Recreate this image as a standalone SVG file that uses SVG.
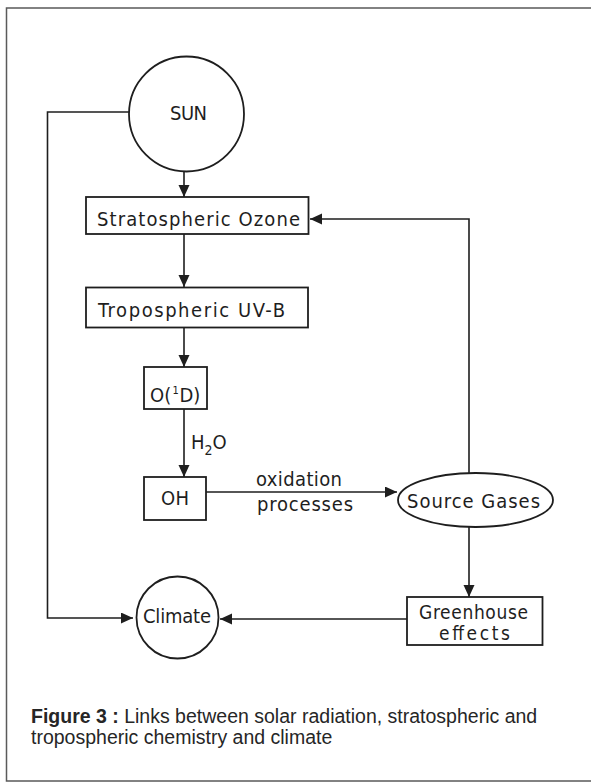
<svg xmlns="http://www.w3.org/2000/svg" width="591" height="782" viewBox="0 0 591 782">
<defs>
<marker id="ah" markerUnits="userSpaceOnUse" markerWidth="13" markerHeight="12" refX="12" refY="5.5" orient="auto">
<path d="M0,0 L12,5.5 L0,11 Z" fill="#1e1e1e"/>
</marker>
<style>
.ln{fill:none;stroke:#1e1e1e;stroke-width:1.6}
.nd{fill:#fff;stroke:#1e1e1e;stroke-width:1.8}
.lb{font-family:"DejaVu Sans Condensed","DejaVu Sans",sans-serif;font-size:20px;fill:#1e1e1e}
.cap{font-family:"Liberation Sans",Arial,sans-serif;font-size:19.5px;fill:#262626}
</style>
</defs>
<rect width="591" height="782" fill="#fff"/>
<path d="M592,8 H6.5 V781 H592" fill="none" stroke="#5a5a5a" stroke-width="1.5"/>
<g id="connectors">
<path class="ln" d="M129,112 H47.5 V618 H133" marker-end="url(#ah)"/>
<path class="ln" d="M184,172 V197" marker-end="url(#ah)"/>
<path class="ln" d="M184,234 V287" marker-end="url(#ah)"/>
<path class="ln" d="M184,327 V367" marker-end="url(#ah)"/>
<path class="ln" d="M184,409 V477" marker-end="url(#ah)"/>
<path class="ln" d="M206,492 H397" marker-end="url(#ah)"/>
<path class="ln" d="M469,473 V219 H310" marker-end="url(#ah)"/>
<path class="ln" d="M469,527 V597" marker-end="url(#ah)"/>
<path class="ln" d="M407,619 H220" marker-end="url(#ah)"/>
<text class="lb" x="191" y="449">H<tspan font-size="14" dy="6">2</tspan><tspan dy="-6">O</tspan></text>
<text class="lb" x="256" y="486" textLength="86" lengthAdjust="spacing">oxidation</text>
<text class="lb" x="257" y="511" textLength="96" lengthAdjust="spacing">processes</text>
</g>
<g id="sun">
<circle class="nd" cx="186.5" cy="114" r="57.5"/>
<text class="lb" x="170" y="120" textLength="37" lengthAdjust="spacing">SUN</text>
</g>
<g id="strat-ozone">
<rect class="nd" x="86" y="197" width="222.5" height="37"/>
<text class="lb" x="97" y="226" textLength="203" lengthAdjust="spacing">Stratospheric Ozone</text>
</g>
<g id="trop-uvb">
<rect class="nd" x="86" y="287.5" width="222" height="40"/>
<text class="lb" x="98" y="317" textLength="187" lengthAdjust="spacing">Tropospheric UV-B</text>
</g>
<g id="o1d">
<rect class="nd" x="144" y="367" width="63" height="42"/>
<text class="lb" x="150" y="402">O(<tspan x="172.5" dy="-8" font-size="11">1</tspan><tspan x="179.5" dy="8">D)</tspan></text>
</g>
<g id="oh">
<rect class="nd" x="144" y="477" width="62" height="43"/>
<text class="lb" x="161" y="505" textLength="28" lengthAdjust="spacing">OH</text>
</g>
<g id="source-gases">
<ellipse class="nd" cx="475.5" cy="500" rx="77.5" ry="27"/>
<text class="lb" x="407" y="508" textLength="133" lengthAdjust="spacing">Source Gases</text>
</g>
<g id="greenhouse">
<rect class="nd" x="407" y="597" width="135.5" height="48"/>
<text class="lb" x="419" y="619" style="font-size:19px" textLength="109" lengthAdjust="spacing">Greenhouse</text>
<text class="lb" x="439" y="640" style="font-size:19px" textLength="71" lengthAdjust="spacing">effects</text>
</g>
<g id="climate">
<circle class="nd" cx="177.5" cy="617.5" r="41"/>
<text class="lb" x="143" y="623" textLength="68" lengthAdjust="spacing">Climate</text>
</g>
<g id="caption">
<text class="cap" x="31" y="723"><tspan font-weight="bold">Figure 3 :</tspan> Links between solar radiation, stratospheric and</text>
<text class="cap" x="31" y="744">tropospheric chemistry and climate</text>
</g>
</svg>
